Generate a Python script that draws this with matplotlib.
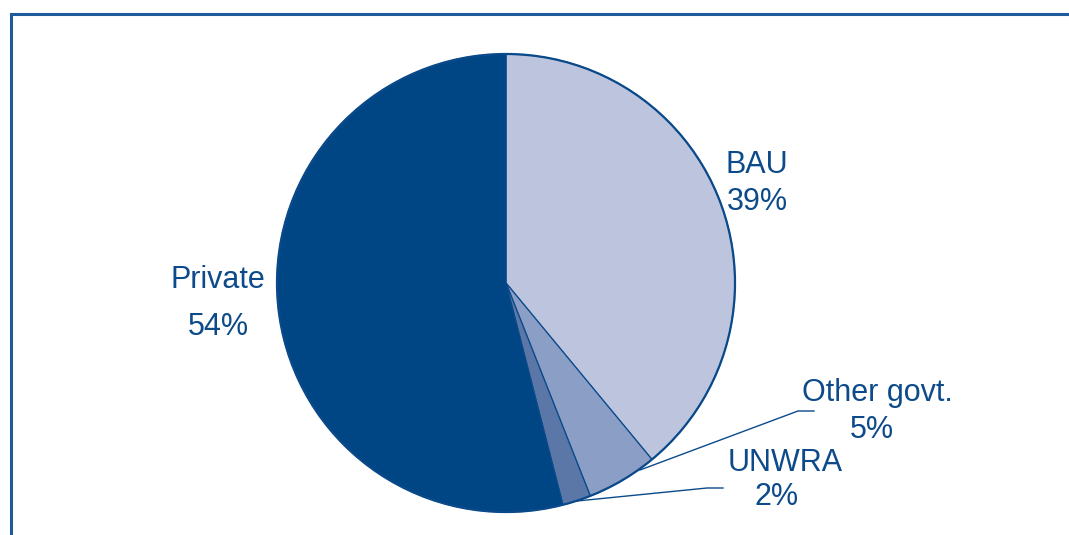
import matplotlib
matplotlib.use("Agg")
import matplotlib.pyplot as plt

# Funding sources (share of total, %)
categories = ["BAU", "Other govt.", "UNWRA", "Private"]
shares = [39, 5, 2, 54]
colors = ["#bcc4de", "#8a9ec6", "#5b77a8", "#004684"]

plt.rcParams["font.family"] = ["Liberation Sans", "DejaVu Sans"]

W, H = 1069, 535
fig = plt.figure(figsize=(W / 100, H / 100), dpi=100)
ax = fig.add_axes([0, 0, 1, 1])

text_color = "#0d4a8a"
edge = "#0b4a8a"

# y axis runs downward, so counterclockwise in data space is clockwise on screen
ax.set_ylim(H, 0)
wedges, _ = ax.pie(shares, colors=colors, startangle=-90, counterclock=True,
                   center=(506, 283), radius=229, frame=True,
                   wedgeprops=dict(edgecolor=edge, linewidth=0.9))
ax.set_xlim(0, W)
ax.set_ylim(H, 0)
ax.set_aspect("equal")
ax.axis("off")

# outer rim
circ = plt.Circle((506, 283), 229, fill=False, edgecolor=edge, linewidth=1.6)
ax.add_patch(circ)

fs = 22
label_pos = {
    "BAU": ((757, 165), (757, 202)),
    "Other govt.": ((877, 393), (872, 430)),
    "UNWRA": ((785, 463), (777, 497)),
    "Private": ((218, 280), (218, 327)),
}
for cat, val in zip(categories, shares):
    (nx, ny), (px, py) = label_pos[cat]
    ax.text(nx, ny, cat, color=text_color, fontsize=fs, ha="center", va="center")
    ax.text(px, py, f"{val}%", color=text_color, fontsize=fs, ha="center", va="center")

# leader lines for the small slices
ax.plot([640, 798, 814], [470, 411, 411], color=edge, linewidth=1.0)
ax.plot([577, 707, 723], [501, 488, 488], color=edge, linewidth=1.0)

# frame along top and left edge
frame_color = "#1f5a9a"
ax.plot([11, 11, W], [H, 14, 14], color=frame_color, linewidth=2.2,
        solid_joinstyle="miter", clip_on=False)

fig.savefig("out.png", dpi=100, facecolor="white")
